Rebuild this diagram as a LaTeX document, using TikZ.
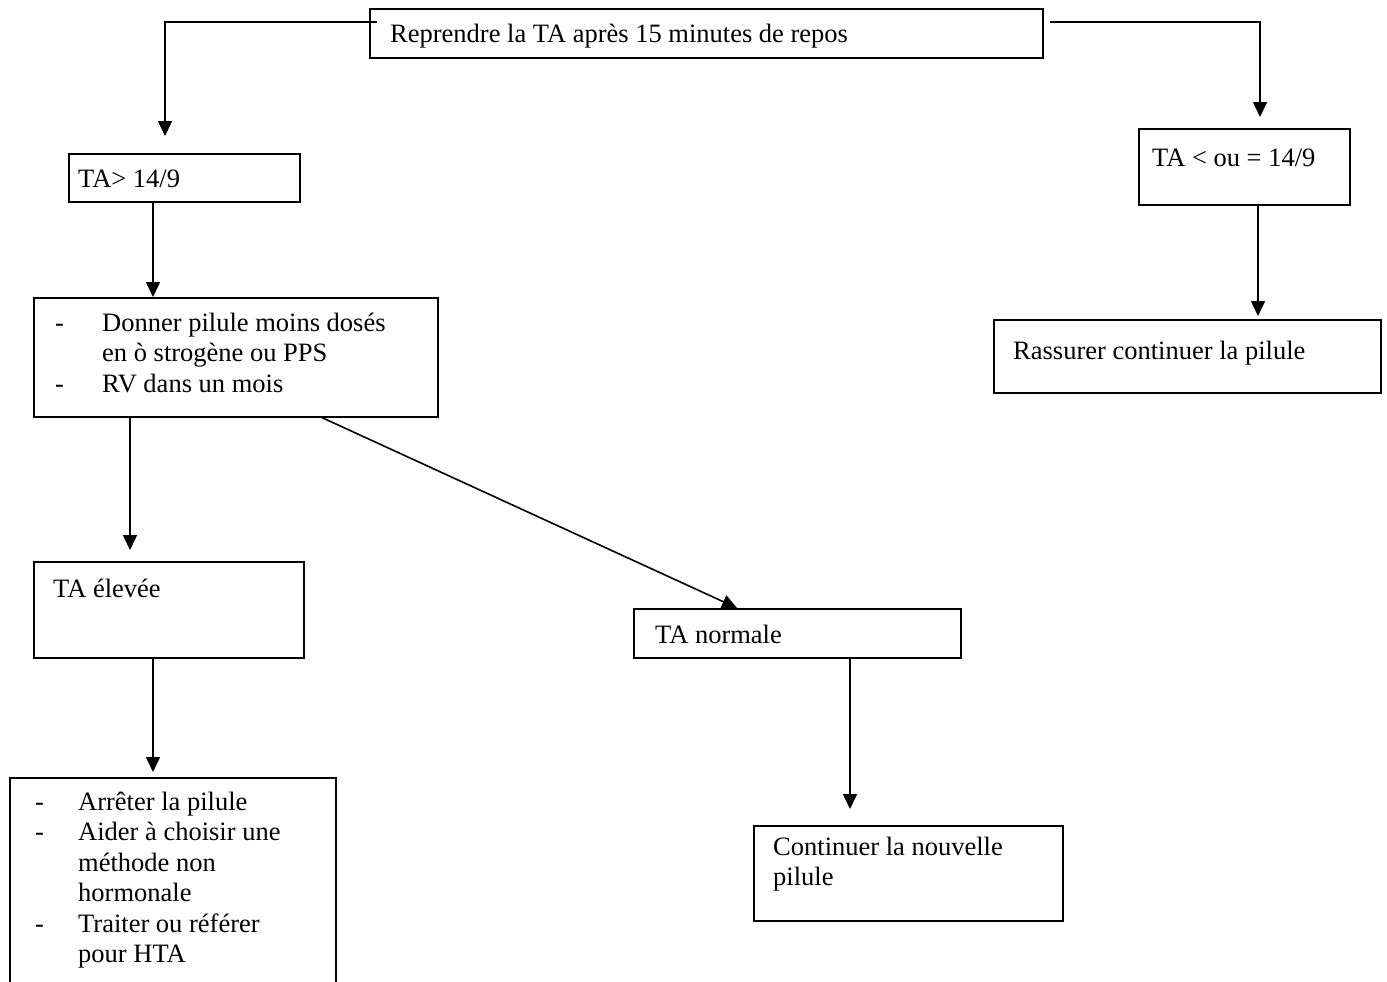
\documentclass[tikz,border=0pt]{standalone}
\usepackage{fontspec}
\setmainfont{Liberation Serif}
\usetikzlibrary{arrows.meta,calc}

\tikzset{
  box/.style={draw, line width=1.6pt, rectangle, inner sep=0pt, anchor=north west},
  txt/.style={anchor=base west, inner sep=0pt, font=\fontsize{26.5}{30.5}\selectfont},
  arr/.style={line width=1.6pt, -{Triangle[length=15pt,width=14pt]}},
}

\begin{document}
\begin{tikzpicture}[x=1pt, y=-1pt]
\useasboundingbox (0,0) rectangle (1387,982);
\clip (0,0) rectangle (1387,982);

% boxes
\node[box, minimum width=673pt, minimum height=49pt] (top) at (369,8) {};
\node[box, minimum width=231pt, minimum height=48pt] (gt) at (68,153) {};
\node[box, minimum width=211pt, minimum height=76pt] (le) at (1138,128) {};
\node[box, minimum width=387pt, minimum height=73pt] (ras) at (993,319) {};
\node[box, minimum width=404pt, minimum height=119pt] (don) at (33,297) {};
\node[box, minimum width=270pt, minimum height=96pt] (ele) at (33,561) {};
\node[box, minimum width=327pt, minimum height=49pt] (nor) at (633,608) {};
\node[box, minimum width=326pt, minimum height=260pt] (bl) at (9,777) {};
\node[box, minimum width=309pt, minimum height=95pt] (con) at (753,825) {};

% texts
\node[txt] (ttop) at (390,43) {Reprendre la TA après 15 minutes de repos};
\node[txt] (tgt) at (78,187) {TA> 14/9};
\node[txt] (tle) at (1152,166) {TA < ou = 14/9};
\node[txt] (tras) at (1013,359) {Rassurer continuer la pilule};
\node[txt] (tdon) at (55,331) {\begin{tabular}[t]{@{}p{47pt}@{}l@{}}
  - & Donner pilule moins dosés\\
    & en ò strogène ou PPS\\
  - & RV dans un mois
\end{tabular}};
\node[txt] (tele) at (53,597) {TA élevée};
\node[txt] (tnor) at (655,643) {TA normale};
\node[txt] (tbl) at (35,810) {\begin{tabular}[t]{@{}p{43pt}@{}l@{}}
  - & Arrêter la pilule\\
  - & Aider à choisir une\\
    & méthode non\\
    & hormonale\\
  - & Traiter ou référer\\
    & pour HTA
\end{tabular}};
\node[txt] (tcon) at (773,855) {\begin{tabular}[t]{@{}l@{}}
  Continuer la nouvelle\\
  pilule
\end{tabular}};

% connectors
\draw[arr] ($(top.north west)+(8,14)$) -| ($(gt.north west)+(97,-17)$);
\draw[arr] ($(top.north east)+(6,14)$) -| ($(le.north west)+(122,-11)$);
\draw[arr] ($(gt.south west)+(85,0)$) -- ($(don.north west)+(120,0)$);
\draw[arr] ($(le.south west)+(120,0)$) -- ($(ras.north west)+(265,-3)$);
\draw[arr] ($(don.south west)+(97,0)$) -- ($(ele.north west)+(97,-11)$);
\draw[arr] ($(don.south west)+(289,0)$) -- ($(nor.north west)+(104,0)$);
\draw[arr] ($(ele.south west)+(120,0)$) -- ($(bl.north west)+(144,-5)$);
\draw[arr] ($(nor.south west)+(217,0)$) -- ($(con.north west)+(97,-16)$);
\end{tikzpicture}
\end{document}
